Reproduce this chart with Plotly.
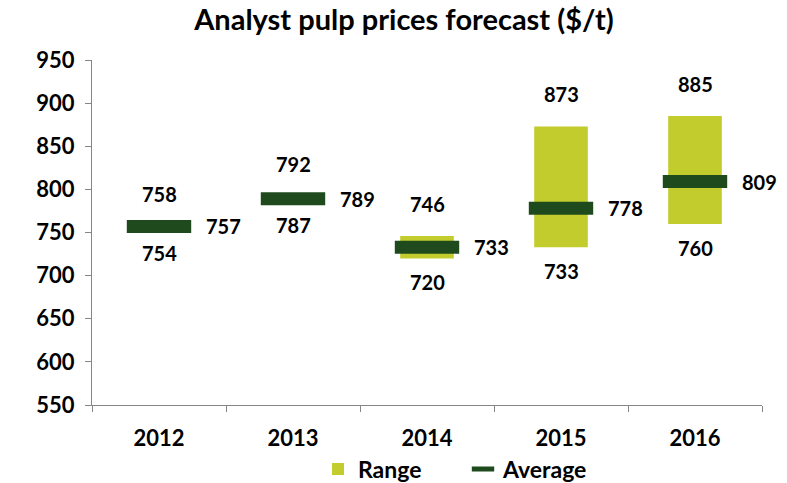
import plotly.graph_objects as go

years = ["2012", "2013", "2014", "2015", "2016"]
low = [754, 787, 720, 733, 760]
high = [758, 792, 746, 873, 885]
avg = [757, 789, 733, 778, 809]

LIME = "#c2cc2c"
DARK = "#1e4a1e"
FONT = "Lato"

xs = list(range(len(years)))

fig = go.Figure()
fig.add_trace(go.Bar(
    x=xs, y=[h - l for h, l in zip(high, low)], base=low,
    name="Range", marker=dict(color=LIME, line=dict(width=0)),
    width=0.4, hoverinfo="skip",
))
fig.add_trace(go.Scatter(
    x=xs, y=avg, mode="markers", name="Average",
    marker=dict(symbol="line-ew-open", size=46, color=DARK,
                line=dict(width=13, color=DARK)),
))

ann = []
for i in xs:
    ann.append(dict(x=i, y=high[i], text="<b>%d</b>" % high[i], yshift=32, showarrow=False))
    ann.append(dict(x=i, y=low[i], text="<b>%d</b>" % low[i], yshift=-24, showarrow=False))
    ann.append(dict(x=i, y=avg[i], text="<b>%d</b>" % avg[i], xshift=64, showarrow=False))
for a in ann:
    a["xref"] = "x"
    a["yref"] = "y"
    a["font"] = dict(family=FONT, size=20, color="black")

fig.update_layout(
    width=787, height=483,
    margin=dict(l=92, r=25, t=60, b=78),
    paper_bgcolor="white", plot_bgcolor="white",
    title=dict(text="<b>Analyst pulp prices forecast ($/t)</b>", x=404 / 787, xanchor="center",
               xref="container", yref="container", y=1 - 20 / 483, yanchor="middle",
               font=dict(family=FONT, size=29, color="black")),
    font=dict(family=FONT, color="black"),
    showlegend=True,
    legend=dict(orientation="h", xref="container", x=318 / 787, xanchor="left",
                yref="container", y=1 - 469 / 483, yanchor="middle",
                font=dict(family=FONT, size=23, color="black", weight="bold"),
                entrywidth=100, itemwidth=30, traceorder="normal"),
    annotations=ann,
)
fig.update_xaxes(
    range=[-0.5, len(years) - 0.5],
    tickmode="array", tickvals=xs, ticktext=["<b>%s</b>" % y for y in years],
    showline=True, linecolor="#868686", linewidth=1, ticks="",
    minor=dict(ticks="outside", tick0=-0.5, dtick=1, ticklen=6, tickcolor="#868686",
               showgrid=False),
    tickfont=dict(family=FONT, size=22, color="black"),
    showgrid=False, zeroline=False, ticklabelstandoff=14, automargin=False,
)
fig.update_yaxes(
    range=[550, 950], showline=True, linecolor="#868686",
    linewidth=1, ticks="outside", ticklen=6, tickcolor="#868686",
    tickvals=list(range(550, 951, 50)),
    ticktext=["<b>%d</b>" % v for v in range(550, 951, 50)],
    tickfont=dict(family=FONT, size=22, color="black"),
    showgrid=False, zeroline=False, ticklabelstandoff=6, automargin=False,
)

fig.write_html("out.html", post_script="document.body.style.margin='0';",
               config={"displayModeBar": False})
